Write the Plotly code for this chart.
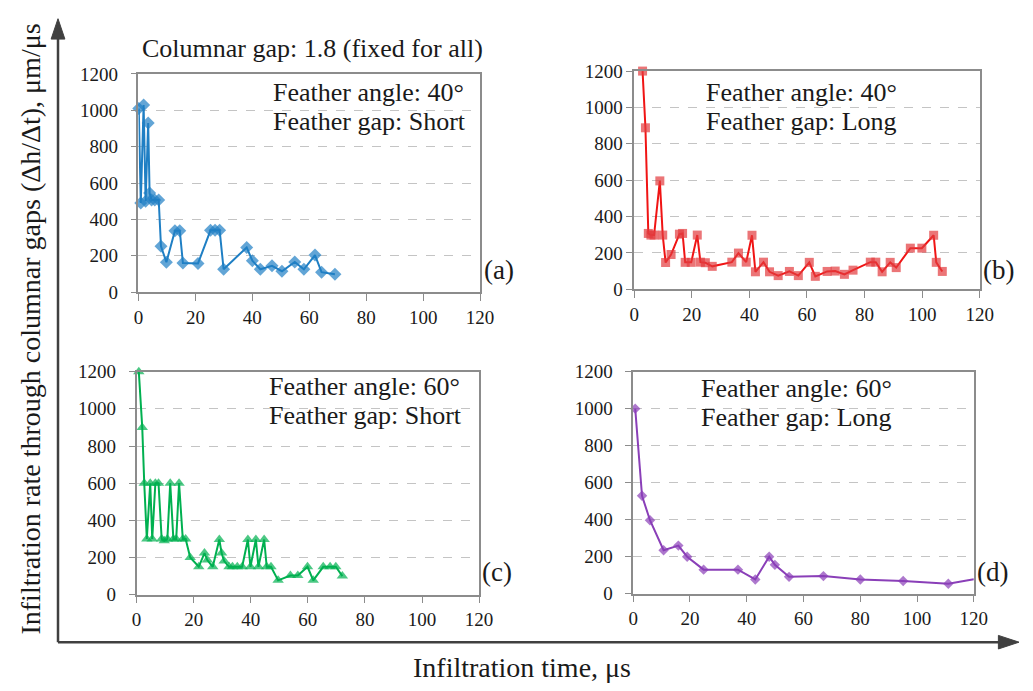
import plotly.graph_objects as go

W, H = 1033, 691
FONT = "Liberation Serif, Times New Roman, serif"

# ---------------- data ----------------
x_ticks = [0, 20, 40, 60, 80, 100, 120]
y_ticks = [0, 200, 400, 600, 800, 1000, 1200]

time_a = [0.1, 0.8, 1.8, 2.5, 3.4, 3.9, 4.6, 5.7, 7.1, 7.9, 9.8, 12.8, 14.5, 15.6, 20.9,
          25.3, 26.9, 28.5, 29.9, 38.0, 40.0, 42.8, 46.9, 50.4, 54.9, 58.1, 62.0, 64.3, 69.0]
rate_a = [1010, 490, 1030, 500, 930, 545, 507, 507, 507, 252, 165, 338, 338, 160, 158,
          340, 340, 340, 126, 246, 173, 126, 145, 115, 166, 126, 204, 110, 99]

time_b = [2.9, 3.9, 4.9, 5.8, 6.9, 8.9, 9.9, 10.9, 12.8, 15.7, 16.8, 17.7, 19.8, 21.9, 23.0,
          24.7, 27.1, 33.9, 36.2, 38.9, 40.9, 42.1, 44.9, 47.0, 50.0, 53.9, 57.0, 60.8, 62.9,
          67.0, 69.8, 73.0, 76.0, 82.0, 83.9, 86.1, 88.9, 91.0, 95.9, 99.9, 104.0, 104.9, 107.0]
rate_b = [1200, 888, 307, 298, 298, 596, 298, 147, 191, 303, 307, 148, 148, 298, 149,
          146, 126, 149, 199, 149, 297, 96, 149, 96, 75, 98, 75, 148, 71,
          98, 100, 82, 105, 149, 149, 96, 148, 119, 226, 226, 297, 148, 98]

time_c = [0.8, 2.0, 2.7, 3.6, 4.8, 5.5, 6.6, 7.7, 8.8, 9.7, 10.8, 11.8, 12.9, 13.9, 14.9,
          16.2, 17.2, 18.8, 21.8, 23.8, 24.8, 26.7, 29.0, 29.8, 30.7, 32.4, 33.6, 35.3, 37.0,
          39.0, 39.9, 41.8, 42.7, 44.7, 45.6, 47.1, 49.6, 53.9, 56.5, 59.9, 61.9, 65.4, 67.8,
          69.8, 72.1]
rate_c = [1200, 900, 600, 300, 600, 300, 600, 600, 300, 290, 300, 600, 300, 300, 600,
          300, 300, 200, 150, 224, 186, 150, 297, 224, 181, 150, 150, 150, 150,
          297, 150, 297, 150, 297, 150, 150, 77, 103, 103, 150, 77, 150, 150,
          150, 100]

time_d = [0.7, 3.1, 5.9, 10.7, 15.9, 19.0, 24.8, 36.9, 43.0, 47.9, 49.9, 54.9, 67.0, 80.0,
          95.1, 111.0, 120.0]
rate_d = [1000, 529, 397, 235, 260, 200, 130, 130, 77, 200, 156, 91, 95, 77,
          69, 54, 78]

panel_letters = ["(a)", "(b)", "(c)", "(d)"]
feather_angles = ["Feather angle: 40°", "Feather angle: 40°", "Feather angle: 60°", "Feather angle: 60°"]
feather_gaps = ["Feather gap: Short", "Feather gap: Long", "Feather gap: Short", "Feather gap: Long"]
title_text = "Columnar gap: 1.8 (fixed for all)"
x_title = "Infiltration time, μs"
y_title = "Infiltration rate through columnar gaps (Δh/Δt), μm/μs"

# ---------------- layout helpers ----------------
def px(x):
    return x / W

def py(y):
    return 1 - y / H

# plot boxes in pixels: left, right, top, bottom
boxes = [(136, 484, 66, 291), (641, 993, 63, 288), (134, 483, 373, 603), (640, 987, 373, 602)]
standoffs = [9, 0, 9, 9]

series = [
    (time_a, rate_a, "#1f7fc4", "#1f7fc4", "diamond", 10),
    (time_b, rate_b, "#f01414", "#e33b3d", "square", 9),
    (time_c, rate_c, "#00b050", "#00b050", "triangle-up", 10),
    (time_d, rate_d, "#8a3fb8", "#8a3fb8", "diamond", 8),
]

fig = go.Figure()
layout = dict(
    width=W, height=H,
    margin=dict(l=0, r=0, t=0, b=0),
    paper_bgcolor="white", plot_bgcolor="white",
    showlegend=False,
    font=dict(family=FONT, color="#1a1a1a"),
)

for i, ((xs, ys, lc, mc, sym, ms), (l, r, t, b)) in enumerate(zip(series, boxes)):
    n = "" if i == 0 else str(i + 1)
    sizes = [ms] * len(xs)
    if i == 3:
        sizes[-1] = 0
    fig.add_trace(go.Scatter(
        x=xs, y=ys, mode="lines+markers",
        line=dict(color=lc, width=2),
        marker=dict(symbol=sym, size=sizes, color=mc, line=dict(width=0)),
        xaxis="x" + n, yaxis="y" + n, cliponaxis=False,
    ))
    layout["xaxis" + n] = dict(
        domain=[px(l), px(r)], range=[0, 120], tickvals=x_ticks, anchor="y" + n,
        showgrid=False, zeroline=False, showline=True, mirror=True,
        linecolor="#8c8c8c", linewidth=1.5, ticks="outside", ticklen=7,
        tickcolor="#8c8c8c", tickwidth=1, tickfont=dict(family=FONT, size=19, color="#1a1a1a"),
    )
    layout["yaxis" + n] = dict(
        domain=[py(b), py(t)], range=[0, 1200], tickvals=y_ticks, anchor="x" + n,
        showgrid=True, gridcolor="#c4c4c4", griddash="dash", gridwidth=1,
        zeroline=False, showline=True, mirror=True,
        linecolor="#8c8c8c", linewidth=1.5, ticks="outside", ticklen=6,
        tickcolor="#8c8c8c", tickwidth=1, ticklabelstandoff=standoffs[i],
        tickfont=dict(family=FONT, size=19, color="#1a1a1a"),
    )

fig.update_layout(**layout)

# ---------------- annotations ----------------
ann = []
label_pos = [(271, 85, 115), (712, 85, 115), (267, 388, 418), (707, 390, 420)]
letter_pos = [(503, 268), (1012, 268), (501, 580), (1006, 580)]
for i in range(4):
    x, y1, y2 = label_pos[i]
    ann.append(dict(x=px(x), y=py(y1), xref="paper", yref="paper", text=feather_angles[i],
                    showarrow=False, xanchor="left", yanchor="middle",
                    font=dict(family=FONT, size=26, color="#1a1a1a")))
    ann.append(dict(x=px(x), y=py(y2), xref="paper", yref="paper", text=feather_gaps[i],
                    showarrow=False, xanchor="left", yanchor="middle",
                    font=dict(family=FONT, size=26, color="#1a1a1a")))
    lx, ly = letter_pos[i]
    ann.append(dict(x=px(lx), y=py(ly), xref="paper", yref="paper", text=panel_letters[i],
                    showarrow=False, xanchor="center", yanchor="middle",
                    font=dict(family=FONT, size=27, color="#1a1a1a")))

ann.append(dict(x=px(138), y=py(40), xref="paper", yref="paper", text=title_text,
                showarrow=False, xanchor="left", yanchor="middle",
                font=dict(family=FONT, size=26, color="#1a1a1a")))
ann.append(dict(x=px(527), y=py(678), xref="paper", yref="paper", text=x_title,
                showarrow=False, xanchor="center", yanchor="middle",
                font=dict(family=FONT, size=28, color="#1a1a1a")))
ann.append(dict(x=px(25), y=py(329), xref="paper", yref="paper", text=y_title,
                showarrow=False, xanchor="center", yanchor="middle", textangle=-90,
                font=dict(family=FONT, size=28, color="#1a1a1a")))
fig.update_layout(annotations=ann)

# ---------------- big axis arrows ----------------
AC = "#404040"
shapes = [
    dict(type="line", xref="paper", yref="paper", x0=px(54), y0=py(652), x1=px(54), y1=py(26),
         line=dict(color=AC, width=2.5)),
    dict(type="line", xref="paper", yref="paper", x0=px(54), y0=py(652), x1=px(1016), y1=py(652),
         line=dict(color=AC, width=2.5)),
    dict(type="path", xref="paper", yref="paper",
         path=f"M {px(47)} {py(30)} L {px(54)} {py(9)} L {px(61)} {py(30)} Z",
         fillcolor=AC, line=dict(color=AC, width=1)),
    dict(type="path", xref="paper", yref="paper",
         path=f"M {px(1012)} {py(645)} L {px(1033)} {py(652)} L {px(1012)} {py(659)} Z",
         fillcolor=AC, line=dict(color=AC, width=1)),
]
fig.update_layout(shapes=shapes)

fig.write_html("out.html")
